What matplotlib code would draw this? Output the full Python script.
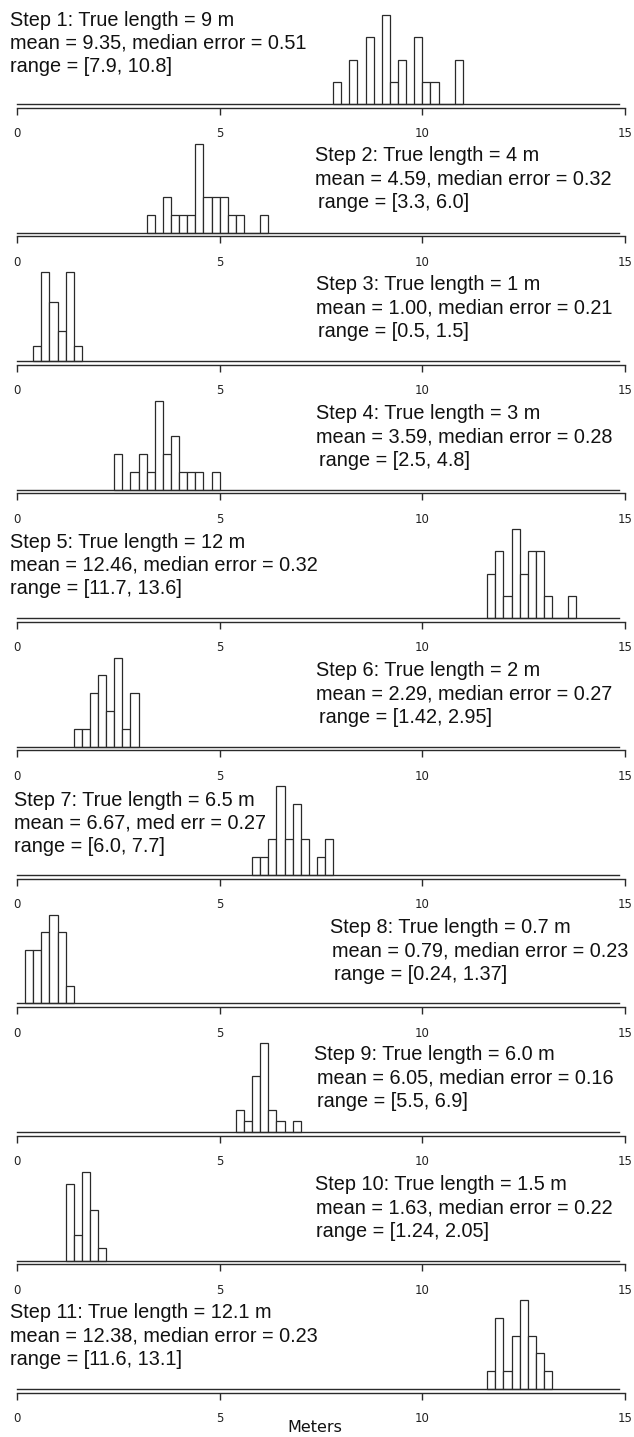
import matplotlib
matplotlib.use("Agg")
import matplotlib.pyplot as plt

# ---------------- data ----------------
bin_width = 0.2
bin_starts = [7.8, 3.2, 0.4, 2.4, 11.6, 1.4, 5.8, 0.2, 5.4, 1.2, 11.6]
counts_1 = [1, 0, 2, 0, 3, 0, 4, 1, 2, 0, 3, 1, 1, 0, 0, 2]
counts_2 = [1, 0, 2, 1, 1, 1, 5, 2, 2, 2, 1, 1, 0, 0, 1]
counts_3 = [1, 6, 4, 2, 6, 1]
counts_4 = [2, 0, 1, 2, 1, 5, 2, 3, 1, 1, 1, 0, 1]
counts_5 = [2, 3, 1, 4, 2, 3, 3, 1, 0, 0, 1]
counts_6 = [1, 1, 3, 4, 2, 5, 1, 3]
counts_7 = [1, 1, 2, 5, 2, 4, 2, 0, 1, 2]
counts_8 = [3, 3, 4, 5, 4, 1]
counts_9 = [2, 1, 5, 8, 2, 1, 0, 1]
counts_10 = [6, 2, 7, 4, 1]
counts_11 = [1, 4, 1, 3, 5, 3, 2, 1]
all_counts = [counts_1, counts_2, counts_3, counts_4, counts_5, counts_6,
              counts_7, counts_8, counts_9, counts_10, counts_11]

labels = [
    ["Step 1: True length = 9 m", "mean = 9.35, median error = 0.51", "range = [7.9, 10.8]"],
    ["Step 2: True length = 4 m", "mean = 4.59, median error = 0.32", "range = [3.3, 6.0]"],
    ["Step 3: True length = 1 m", "mean = 1.00, median error = 0.21", "range = [0.5, 1.5]"],
    ["Step 4: True length = 3 m", "mean = 3.59, median error = 0.28", "range = [2.5, 4.8]"],
    ["Step 5: True length = 12 m", "mean = 12.46, median error = 0.32", "range = [11.7, 13.6]"],
    ["Step 6: True length = 2 m", "mean = 2.29, median error = 0.27", "range = [1.42, 2.95]"],
    ["Step 7: True length = 6.5 m", "mean = 6.67, med err = 0.27", "range = [6.0, 7.7]"],
    ["Step 8: True length = 0.7 m", "mean = 0.79, median error = 0.23", "range = [0.24, 1.37]"],
    ["Step 9: True length = 6.0 m", "mean = 6.05, median error = 0.16", "range = [5.5, 6.9]"],
    ["Step 10: True length = 1.5 m", "mean = 1.63, median error = 0.22", "range = [1.24, 2.05]"],
    ["Step 11: True length = 12.1 m", "mean = 12.38, median error = 0.23", "range = [11.6, 13.1]"],
]
tick_values = [0, 5, 10, 15]
tick_labels = ["0", "5", "10", "15"]
x_label = "Meters"

# ---------------- layout (pixels) ----------------
W, H = 634, 1437
DPI = 100
x0_px, x1_px = 17, 625
base0_px, pitch_px = 104, 128.5
bar_h_px = 89
# x of each text line (px) and offset of first line centre above the baseline
text_x = [
    [10, 10, 10],
    [315, 315, 318],
    [316, 316, 318],
    [316, 316, 319],
    [10, 10, 10],
    [316, 316, 319],
    [14, 14, 14],
    [330, 332, 334],
    [314, 317, 317],
    [315, 316, 316],
    [10, 10, 10],
]
text_off = [84, 77, 76, 76, 76, 76, 75, 76, 77, 76, 76]
line_gap = 23.4

fig = plt.figure(figsize=(W / DPI, H / DPI), dpi=DPI)
fig.patch.set_facecolor("white")

edge = "#2a2a2a"
for i, cnts in enumerate(all_counts):
    base = base0_px + pitch_px * i
    bottom_px = base + 0.04 * bar_h_px
    height_px = 1.08 * bar_h_px
    ax = fig.add_axes([x0_px / W, 1 - bottom_px / H, (x1_px - x0_px) / W, height_px / H])
    M = max(cnts)
    lefts = [bin_starts[i] + k * bin_width for k in range(len(cnts))]
    ax.bar(lefts, cnts, width=bin_width, align="edge", color="white",
           edgecolor=edge, linewidth=0.9, zorder=2)
    ax.plot([0, 14.85], [0, 0], color=edge, lw=1.0, zorder=3, clip_on=False)
    ax.set_xlim(0, 15)
    ax.set_ylim(-0.04 * M, 1.04 * M)
    for s in ["top", "left", "right"]:
        ax.spines[s].set_visible(False)
    ax.spines["bottom"].set_color(edge)
    ax.spines["bottom"].set_linewidth(1.0)
    ax.set_yticks([])
    ax.set_xticks(tick_values)
    ax.set_xticklabels(tick_labels)
    ax.tick_params(axis="x", direction="out", length=5, width=1.0, color=edge,
                   pad=9, labelsize=8.5)
    for lab in ax.get_xticklabels():
        lab.set_fontfamily("DejaVu Sans")
        lab.set_color("#222222")
    ax.patch.set_alpha(0)
    y1 = base - text_off[i]
    for j, line in enumerate(labels[i]):
        fig.text(text_x[i][j] / W, 1 - (y1 + j * line_gap) / H, line,
                 fontsize=14.3, family="Liberation Sans", va="center", ha="left",
                 color="#111111")

fig.text(315 / W, 1 - 1428 / H, x_label, fontsize=11.5, family="DejaVu Sans",
         ha="center", va="center", color="#111111")

fig.savefig("out.png", dpi=DPI, facecolor="white")
